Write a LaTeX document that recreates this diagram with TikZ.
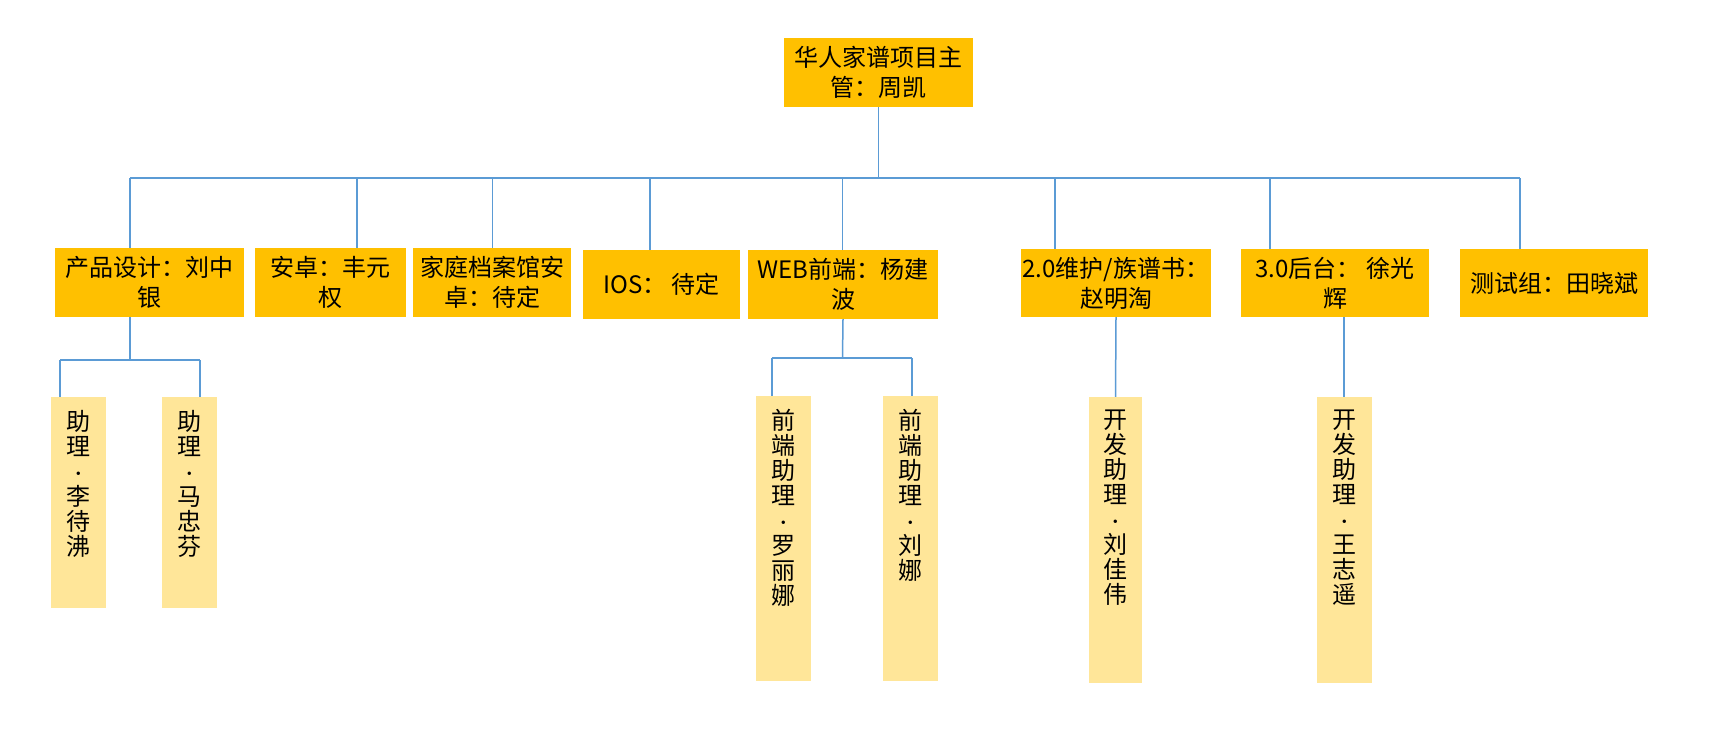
\documentclass[tikz,border=0pt]{standalone}
\usepackage{fontspec}
\setmainfont{Noto Sans CJK SC}
\newfontfamily\dotfont{Carlito}
\newcommand{\mdot}{{\dotfont ·}}
\definecolor{boxorange}{HTML}{FFC000}
\definecolor{boxlight}{HTML}{FFE699}
\definecolor{linkblue}{HTML}{5B9BD5}
\tikzset{
  obox/.style={fill=boxorange, draw=none, inner sep=0pt, align=center,
    font=\fontsize{24}{30}\selectfont},
  abox/.style={fill=boxlight, draw=none, inner sep=0pt},
  vtext/.style={anchor=north, inner sep=0pt, align=center,
    font=\fontsize{24}{25}\selectfont},
  link/.style={draw=linkblue, line width=1.5pt}
}
\begin{document}
\begin{tikzpicture}[x=1pt,y=-1pt]
\useasboundingbox[fill=white] (0,0) rectangle (1712,750);
% top level
\node[obox, minimum width=189pt, minimum height=69pt] (root) at (878.5,72.5) {华人家谱项目主\\管：周凯};
% second level
\node[obox, minimum width=189pt, minimum height=69pt] (pd) at (149.5,282.5) {产品设计：刘中\\银};
\node[obox, minimum width=151pt, minimum height=69pt] (az) at (330,282.5) {安卓：丰元\\权};
\node[obox, minimum width=158pt, minimum height=69pt] (jt) at (492,282.5) {家庭档案馆安\\卓：待定};
\node[obox, minimum width=157pt, minimum height=69pt] (ios) at (661.5,284.5) {IOS： 待定};
\node[obox, minimum width=190pt, minimum height=69pt] (web) at (843,284.5) {WEB前端：杨建\\波};
\node[obox, minimum width=190pt, minimum height=68pt] (v2) at (1116,283) {2.0维护/族谱书：\\赵明淘};
\node[obox, minimum width=188pt, minimum height=68pt] (v3) at (1335,283) {3.0后台： 徐光\\辉};
\node[obox, minimum width=188pt, minimum height=68pt] (test) at (1554,283) {测试组：田晓斌};
% assistants
\node[abox, minimum width=55pt, minimum height=211pt] (a1) at (78.5,502.5) {};
\node[abox, minimum width=55pt, minimum height=211pt] (a2) at (189.5,502.5) {};
\node[abox, minimum width=55pt, minimum height=285pt] (a3) at (783.5,538.5) {};
\node[abox, minimum width=55pt, minimum height=285pt] (a4) at (910.5,538.5) {};
\node[abox, minimum width=53pt, minimum height=286pt] (a5) at (1115.5,540) {};
\node[abox, minimum width=55pt, minimum height=286pt] (a6) at (1344.5,540) {};
\node[vtext] (t1) at ([yshift=-13pt]a1.north) {助\\理\\\mdot\\李\\待\\沸};
\node[vtext] (t2) at ([yshift=-13pt]a2.north) {助\\理\\\mdot\\马\\忠\\芬};
\node[vtext] (t3) at ([yshift=-13pt]a3.north) {前\\端\\助\\理\\\mdot\\罗\\丽\\娜};
\node[vtext] (t4) at ([yshift=-13pt]a4.north) {前\\端\\助\\理\\\mdot\\刘\\娜};
\node[vtext] (t5) at ([yshift=-13pt]a5.north) {开\\发\\助\\理\\\mdot\\刘\\佳\\伟};
\node[vtext] (t6) at ([yshift=-13pt]a6.north) {开\\发\\助\\理\\\mdot\\王\\志\\遥};
% connectors, level 1
\coordinate (bus) at (878.5,178);
\coordinate (busL) at (130,178);
\coordinate (busR) at (1520,178);
\coordinate (s2) at (357,178);
\coordinate (s3) at (492.5,178);
\coordinate (s4) at (650,178);
\coordinate (s5) at (842.5,178);
\coordinate (s6) at (1055,178);
\coordinate (s7) at (1270,178);
\draw[link] (root.south) -- (bus);
\draw[link] (busL) -- (busR);
\draw[link] (busL) -- (busL |- pd.north);
\draw[link] (s2) -- (s2 |- az.north);
\draw[link] (s3) -- (s3 |- jt.north);
\draw[link] (s4) -- (s4 |- ios.north);
\draw[link] (s5) -- (s5 |- web.north);
\draw[link] (s6) -- (s6 |- v2.north);
\draw[link] (s7) -- (s7 |- v3.north);
\draw[link] (busR) -- (busR |- test.north);
% product design branch
\coordinate (pdb) at (130,360);
\coordinate (pdl) at (60,360);
\coordinate (pdr) at (200,360);
\draw[link] (pdb |- pd.south) -- (pdb);
\draw[link] (pdl) -- (pdr);
\draw[link] (pdl) -- (pdl |- a1.north);
\draw[link] (pdr) -- (pdr |- a2.north);
% web branch
\coordinate (wb) at (842.5,358);
\coordinate (wl) at (772,358);
\coordinate (wr) at (912,358);
\draw[link] (web.south) -- (wb);
\draw[link] (wl) -- (wr);
\draw[link] (wl) -- (wl |- a3.north);
\draw[link] (wr) -- (wr |- a4.north);
% single branches
\draw[link] (v2.south) -- (a5.north);
\coordinate (v3b) at (1344,317);
\draw[link] (v3b) -- (v3b |- a6.north);
\end{tikzpicture}
\end{document}
